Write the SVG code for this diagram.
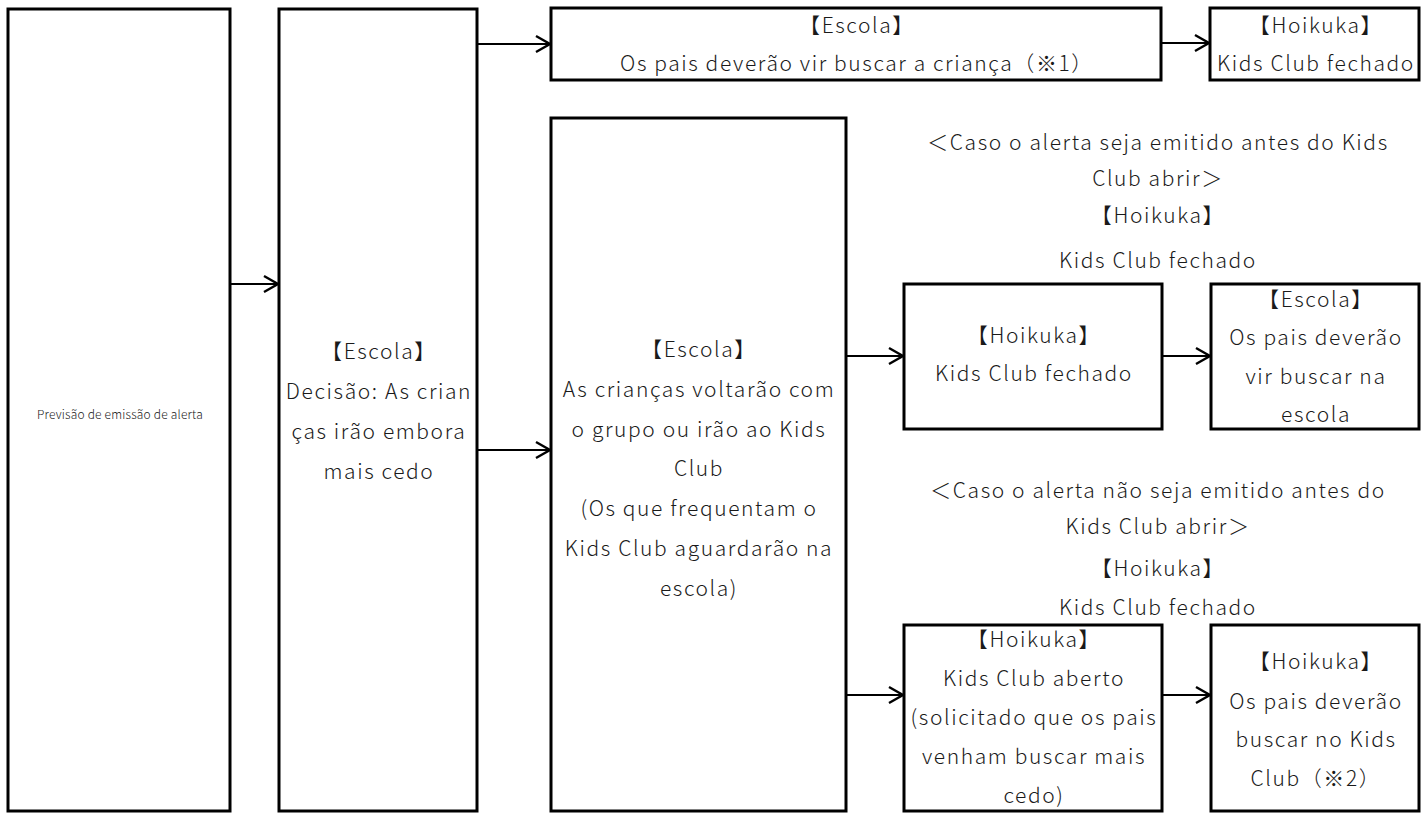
<svg xmlns="http://www.w3.org/2000/svg" width="1426" height="814" viewBox="0 0 1426 814">
<defs>
<style>
.box{fill:#fff;stroke:#000;stroke-width:3}
.t{font-family:"Noto Sans CJK JP","Noto Sans",sans-serif;font-size:21px;font-weight:300;letter-spacing:1.6px;fill:#1a1a1a;text-anchor:middle;dominant-baseline:central}
.s{font-size:12px;letter-spacing:0.2px}
.c{fill:none;stroke:#000;stroke-width:2.2}
</style>
<marker id="ah" markerUnits="userSpaceOnUse" markerWidth="20" markerHeight="20" viewBox="0 0 20 20" refX="18" refY="10" orient="auto">
<path d="M4,2 L18,10 L4,18" fill="none" stroke="#000" stroke-width="2.4"/>
</marker>
</defs>
<rect width="1426" height="814" fill="#fff"/>
<g id="connectors">
<line class="c" x1="231" y1="284" x2="278" y2="284" marker-end="url(#ah)"/>
<line class="c" x1="477" y1="44" x2="550" y2="44" marker-end="url(#ah)"/>
<line class="c" x1="477" y1="450" x2="550" y2="450" marker-end="url(#ah)"/>
<line class="c" x1="1161" y1="43" x2="1209" y2="43" marker-end="url(#ah)"/>
<line class="c" x1="846" y1="356" x2="903" y2="356" marker-end="url(#ah)"/>
<line class="c" x1="1162" y1="356" x2="1210" y2="356" marker-end="url(#ah)"/>
<line class="c" x1="846" y1="695" x2="903" y2="695" marker-end="url(#ah)"/>
<line class="c" x1="1162" y1="695" x2="1210" y2="695" marker-end="url(#ah)"/>
</g>
<g id="n1">
<rect class="box" x="8" y="9" width="222" height="802"/>
<text class="t s" x="120" y="413">Previsão de emissão de alerta</text>
</g>
<g id="n2">
<rect class="box" x="279" y="9" width="198" height="802"/>
<text class="t" x="379" y="350">【Escola】</text>
<text class="t" x="379" y="390">Decisão: As crian</text>
<text class="t" x="379" y="430">ças irão embora</text>
<text class="t" x="379" y="470">mais cedo</text>
</g>
<g id="n3">
<rect class="box" x="551" y="8" width="610" height="72"/>
<text class="t" x="857" y="24">【Escola】</text>
<text class="t" x="857" y="62">Os pais deverão vir buscar a criança（※1）</text>
</g>
<g id="n4">
<rect class="box" x="1210" y="8" width="209" height="72"/>
<text class="t" x="1316" y="24">【Hoikuka】</text>
<text class="t" x="1316" y="62">Kids Club fechado</text>
</g>
<g id="n5">
<rect class="box" x="551" y="118" width="295" height="693"/>
<text class="t" x="699" y="348">【Escola】</text>
<text class="t" x="699" y="388">As crianças voltarão com</text>
<text class="t" x="699" y="428">o grupo ou irão ao Kids</text>
<text class="t" x="699" y="467">Club</text>
<text class="t" x="699" y="507">(Os que frequentam o</text>
<text class="t" x="699" y="547">Kids Club aguardarão na</text>
<text class="t" x="699" y="587">escola)</text>
</g>
<g id="label1">
<text class="t" x="1158" y="141">＜Caso o alerta seja emitido antes do Kids</text>
<text class="t" x="1158" y="177">Club abrir＞</text>
<text class="t" x="1158" y="214">【Hoikuka】</text>
<text class="t" x="1158" y="259">Kids Club fechado</text>
</g>
<g id="n6">
<rect class="box" x="904" y="284" width="258" height="145"/>
<text class="t" x="1034" y="334">【Hoikuka】</text>
<text class="t" x="1034" y="372">Kids Club fechado</text>
</g>
<g id="n7">
<rect class="box" x="1211" y="284" width="208" height="145"/>
<text class="t" x="1316" y="298">【Escola】</text>
<text class="t" x="1316" y="336">Os pais deverão</text>
<text class="t" x="1316" y="375">vir buscar na</text>
<text class="t" x="1316" y="413">escola</text>
</g>
<g id="label2">
<text class="t" x="1158" y="489">＜Caso o alerta não seja emitido antes do</text>
<text class="t" x="1158" y="525">Kids Club abrir＞</text>
<text class="t" x="1158" y="567">【Hoikuka】</text>
<text class="t" x="1158" y="606">Kids Club fechado</text>
</g>
<g id="n8">
<rect class="box" x="904" y="625" width="258" height="186"/>
<text class="t" x="1034" y="638">【Hoikuka】</text>
<text class="t" x="1034" y="677">Kids Club aberto</text>
<text class="t" x="1034" y="716">(solicitado que os pais</text>
<text class="t" x="1034" y="755">venham buscar mais</text>
<text class="t" x="1034" y="794">cedo)</text>
</g>
<g id="n9">
<rect class="box" x="1211" y="625" width="208" height="186"/>
<text class="t" x="1316" y="660">【Hoikuka】</text>
<text class="t" x="1316" y="700">Os pais deverão</text>
<text class="t" x="1316" y="738">buscar no Kids</text>
<text class="t" x="1316" y="777">Club（※2）</text>
</g>
</svg>
